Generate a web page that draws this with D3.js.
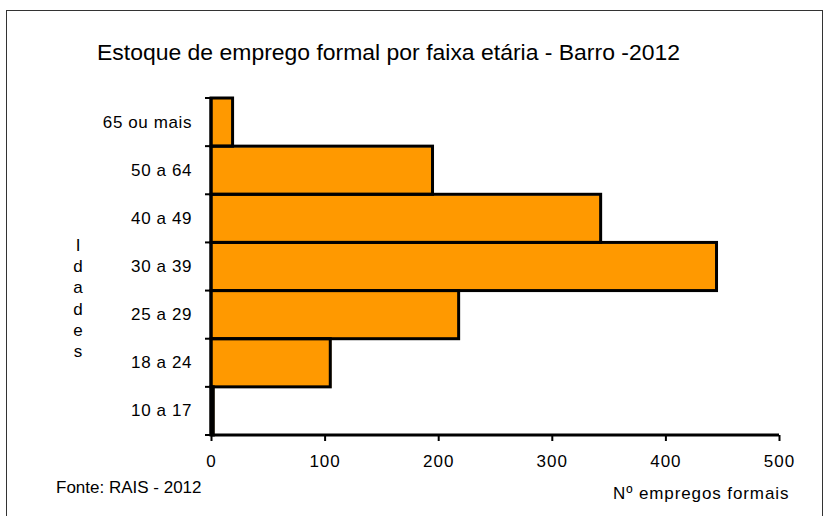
<!DOCTYPE html>
<html><head><meta charset="utf-8">
<script src="https://cdn.jsdelivr.net/npm/d3@7"></script>
<style>body{margin:0;background:#fff}svg{display:block}text{font-family:"Liberation Sans",Arial,sans-serif;fill:#000}</style>
</head><body>
<script>
const categories = ["10 a 17","18 a 24","25 a 29","30 a 39","40 a 49","50 a 64","65 ou mais"];
const values = [2,105,218,445,343,195,19];
const xTicks = [0,100,200,300,400,500];
const title = "Estoque de emprego formal por faixa etária - Barro -2012";

const W=824,H=516;
const svg=d3.select("body").append("svg").attr("width",W).attr("height",H);
svg.append("rect").attr("x",6.5).attr("y",10.5).attr("width",W-8).attr("height",H).attr("fill","none").attr("stroke","#333").attr("stroke-width",1);

const x=d3.scaleLinear().domain([0,500]).range([211,779]);
const y=d3.scaleBand().domain(categories.slice().reverse()).range([98,435]).padding(0);

svg.append("text").attr("x",97).attr("y",60)
  .attr("textLength",583).attr("lengthAdjust","spacingAndGlyphs")
  .style("font-size","22px").text(title);

const data=categories.map((c,i)=>({c,v:values[i]}));
svg.selectAll("rect.fill").data(data).join("rect").attr("class","fill")
  .attr("x",x(0)+1).attr("y",d=>y(d.c)+1).attr("width",d=>Math.max(0,x(d.v)-x(0))).attr("height",y.bandwidth())
  .attr("fill","#FF9900");
svg.selectAll("rect.bar").data(data).join("rect").attr("class","bar")
  .attr("x",x(0)).attr("y",d=>y(d.c)).attr("width",d=>Math.max(0,x(d.v)-x(0))).attr("height",y.bandwidth())
  .attr("fill","none").attr("stroke","#000").attr("stroke-width",3);

// x axis
const xa=svg.append("g").attr("transform","translate(0,435)")
  .call(d3.axisBottom(x).tickValues(xTicks).tickSize(6).tickPadding(14).tickFormat(d3.format("d")));
xa.select(".domain").attr("stroke","#000").attr("stroke-width",3).attr("d",`M${x(0)},0H${x(500)}`);
xa.selectAll(".tick line").attr("stroke","#000").attr("stroke-width",2);
xa.selectAll(".tick text").style("font-size","17px").style("letter-spacing","1px").attr("font-family",null);

// y axis
const ya=svg.append("g").attr("transform",`translate(${x(0)},0)`)
  .call(d3.axisLeft(y).tickSize(0).tickPadding(19));
ya.select(".domain").attr("stroke","#000").attr("stroke-width",3).attr("d","M0,98V435");
ya.selectAll(".tick text").style("font-size","17px").style("letter-spacing","0.6px").attr("font-family",null);
const yTickPos=[...y.domain().map(d=>y(d)),435];
svg.selectAll("line.yt").data(yTickPos).join("line").attr("class","yt")
  .attr("x1",x(0)-6).attr("x2",x(0)+3).attr("y1",d=>d).attr("y2",d=>d).attr("stroke","#000").attr("stroke-width",2);

// Idades vertical label
const lbl="Idades".split("");
svg.selectAll("text.yl").data(lbl).join("text").attr("class","yl")
  .attr("x",78).attr("y",(d,i)=>251+i*21.2).attr("text-anchor","middle").style("font-size","17px").text(d=>d);

svg.append("text").attr("x",56).attr("y",493).style("font-size","17px").text("Fonte: RAIS - 2012");
svg.append("text").attr("x",613).attr("y",499).style("font-size","17px").style("letter-spacing","0.9px").text("Nº empregos formais");
</script>
</body></html>
